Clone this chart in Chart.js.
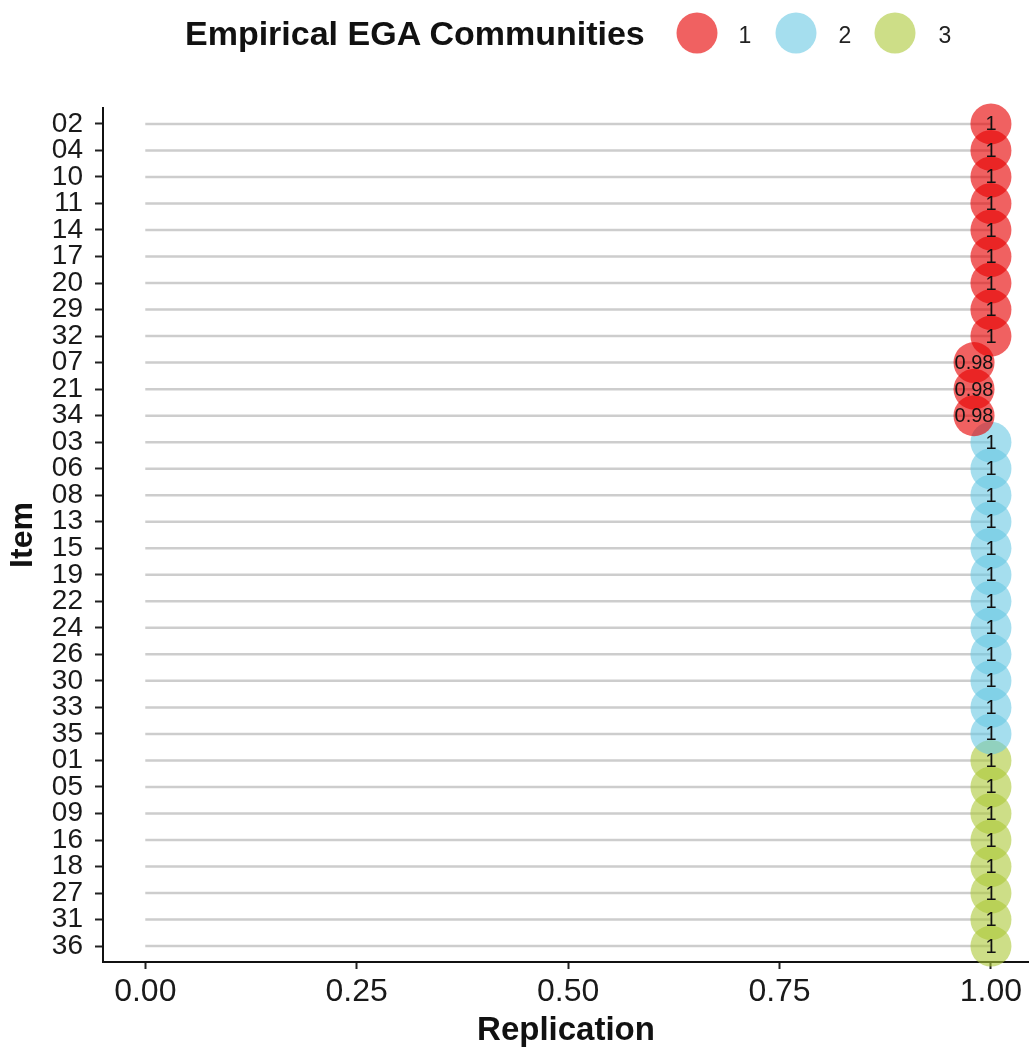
<!DOCTYPE html>
<html>
<head>
<meta charset="utf-8">
<script src="https://cdn.jsdelivr.net/npm/chart.js@4.4.1/dist/chart.umd.min.js"></script>
<style>
  html, body { margin: 0; padding: 0; background: #ffffff; }
  #wrap { position: relative; width: 1029px; height: 1051px; overflow: hidden; }
  #plot { position: absolute; left: 0; top: 0; }
  .legend { position: absolute; left: 0; top: 0; width: 1029px; height: 70px;
            font-family: "Liberation Sans", Arial, Helvetica, sans-serif; color: #111; }
  .legend .title { position: absolute; left: 185px; top: 33px; transform: translateY(-50%);
                   font-weight: bold; font-size: 34px; white-space: nowrap; }
  .legend .dot { position: absolute; width: 41px; height: 41px; border-radius: 50%;
                 top: 33px; transform: translate(-50%, -50%); }
  .legend .lab { position: absolute; top: 35px; transform: translate(-50%, -50%);
                 font-size: 23px; color: #222; }
</style>
</head>
<body>
<div id="wrap">
  <canvas id="plot" width="1029" height="1051"></canvas>
  <div class="legend" id="legend"><div class="title">Empirical EGA Communities</div></div>
</div>
<script>
// Items, top to bottom, grouped by community
const items = ['02','04','10','11','14','17','20','29','32','07','21','34',
               '03','06','08','13','15','19','22','24','26','30','33','35',
               '01','05','09','16','18','27','31','36'];
// Proportion of bootstrap replicates placing each item in its community
const replication = [1,1,1,1,1,1,1,1,1,0.98,0.98,0.98,
                     1,1,1,1,1,1,1,1,1,1,1,1,
                     1,1,1,1,1,1,1,1];
// Empirical community membership of each item
const community = [1,1,1,1,1,1,1,1,1,1,1,1,
                   2,2,2,2,2,2,2,2,2,2,2,2,
                   3,3,3,3,3,3,3,3];
const communityNames = ['1','2','3'];
const communityColors = ['rgba(230,0,0,0.62)', 'rgba(105,200,227,0.6)', 'rgba(172,200,55,0.6)'];
const xTicks = [0, 0.25, 0.5, 0.75, 1];

const FONT = '"Liberation Sans", Arial, Helvetica, sans-serif';

// Legend (HTML, above the canvas)
const legendEl = document.getElementById('legend');
const dotX = [697, 796, 895];
const labX = [745, 845, 945];
communityNames.forEach((name, k) => {
  const d = document.createElement('div');
  d.className = 'dot';
  d.style.left = dotX[k] + 'px';
  d.style.background = communityColors[k];
  legendEl.appendChild(d);
  const l = document.createElement('div');
  l.className = 'lab';
  l.style.left = labX[k] + 'px';
  l.textContent = name;
  legendEl.appendChild(l);
});

// Grey segments from 0 to each item's value
const segmentSets = items.map((it, i) => ({
  type: 'line',
  data: [{x: 0, y: i}, {x: replication[i], y: i}],
  borderColor: '#cdcdcd',
  borderWidth: 2.5,
  pointRadius: 0,
  order: 2
}));

// Points coloured by community
const pointSets = communityNames.map((name, k) => ({
  type: 'scatter',
  label: name,
  data: items.map((it, i) => ({x: replication[i], y: i, c: community[i]}))
             .filter(p => p.c === k + 1),
  backgroundColor: communityColors[k],
  borderWidth: 0,
  pointRadius: 20.5,
  pointHoverRadius: 20.5,
  clip: false,
  order: 1
}));

// Value labels drawn on top of all points
const valueLabels = {
  id: 'valueLabels',
  afterDatasetsDraw(chart) {
    const {ctx, scales: {x, y}} = chart;
    ctx.save();
    ctx.font = '20px ' + FONT;
    ctx.fillStyle = '#111';
    ctx.textAlign = 'center';
    ctx.textBaseline = 'middle';
    replication.forEach((v, i) => {
      ctx.fillText(String(v), x.getPixelForValue(v), y.getPixelForValue(i) + 1);
    });
    ctx.restore();
  }
};

new Chart(document.getElementById('plot'), {
  type: 'scatter',
  data: { datasets: [...segmentSets, ...pointSets] },
  plugins: [valueLabels],
  options: {
    responsive: false,
    animation: false,
    events: [],
    layout: { autoPadding: false, padding: { top: 108, right: 0, bottom: 0, left: 0 } },
    plugins: { legend: { display: false }, tooltip: { enabled: false } },
    scales: {
      x: {
        type: 'linear',
        min: -0.05,
        max: 1.045,
        afterBuildTicks: s => { s.ticks = xTicks.map(v => ({value: v})); },
        afterFit: s => { s.height = 89; s.paddingLeft = 0; s.paddingRight = 0; },
        ticks: {
          autoSkip: false,
          maxRotation: 0,
          padding: 4,
          color: '#1a1a1a',
          font: { family: FONT, size: 32 },
          callback: v => Number(v).toFixed(2)
        },
        grid: { display: true, drawOnChartArea: false, drawTicks: true,
                tickLength: 7, tickWidth: 2, tickColor: '#222' },
        border: { display: true, color: '#111', width: 2 },
        title: { display: true, text: 'Replication', color: '#111',
                 font: { family: FONT, size: 33, weight: 'bold' },
                 padding: { top: 0, bottom: 0 } }
      },
      y: {
        type: 'linear',
        reverse: true,
        min: -0.6,
        max: items.length - 1 + 0.6,
        afterBuildTicks: s => { s.ticks = items.map((_, i) => ({value: i})); },
        afterFit: s => { s.width = 103; s.paddingTop = 0; s.paddingBottom = 0; },
        ticks: {
          autoSkip: false,
          padding: 12,
          color: '#1a1a1a',
          font: { family: FONT, size: 28 },
          callback: v => items[v]
        },
        grid: { display: true, drawOnChartArea: false, drawTicks: true,
                tickLength: 8, tickWidth: 2, tickColor: '#222' },
        border: { display: true, color: '#111', width: 2 },
        title: { display: true, text: 'Item', color: '#111',
                 font: { family: FONT, size: 32, weight: 'bold' },
                 padding: { top: 4, bottom: 0 } }
      }
    }
  }
});
</script>
</body>
</html>
